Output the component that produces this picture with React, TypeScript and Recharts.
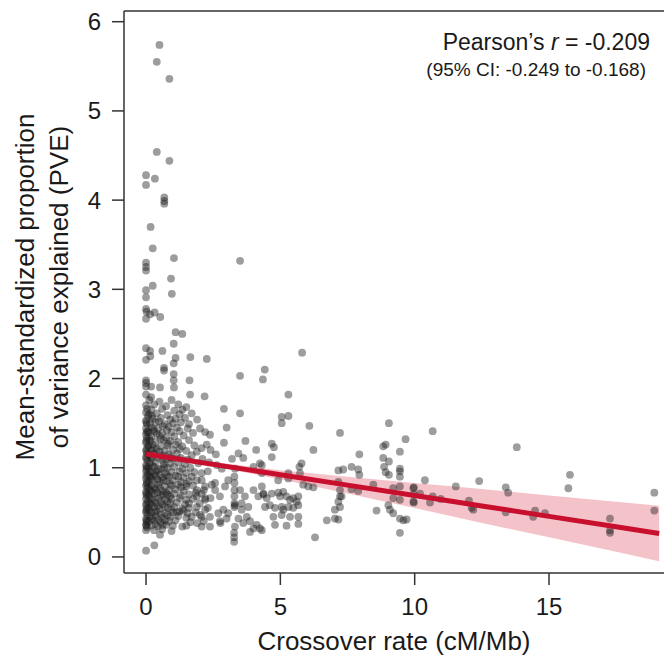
import { ComposedChart, Scatter, Line, Area, XAxis, YAxis, ReferenceLine, Label } from 'recharts';

const FONT = '"Liberation Sans", Arial, Helvetica, sans-serif';
const INK = '#1a1a1a';
const AXIS = '#333';

const X_DOMAIN = [-0.82, 19.28];
const Y_DOMAIN = [-0.18, 6.12];
const X_TICKS = [0, 5, 10, 15];
const Y_TICKS = [0, 1, 2, 3, 4, 5, 6];

// regression fit and 95% band
const fitX = [0, 2.5, 5, 7.5, 10, 12.5, 15, 17.5, 19.1];
const fitY = [1.155, 1.038, 0.922, 0.805, 0.688, 0.571, 0.455, 0.338, 0.263];
const bandLow = [1.105, 1.013, 0.872, 0.71, 0.548, 0.381, 0.22, 0.058, -0.047];
const bandHigh = [1.205, 1.063, 0.972, 0.9, 0.828, 0.761, 0.69, 0.618, 0.573];

// points above ~1.8
const upperPoints = [
  [0.5, 5.74], [0.4, 5.55], [0.87, 5.36], [0.4, 4.54], [0.87, 4.44], [0.0, 4.28], [0.33, 4.24],
  [0.0, 4.17], [0.68, 4.03], [0.68, 3.99], [0.68, 3.96], [0.17, 3.7], [0.25, 3.46], [1.04, 3.35],
  [3.5, 3.32], [0.0, 3.3], [0.0, 3.25], [0.0, 3.21], [0.93, 3.12], [0.25, 3.04], [0.0, 2.99],
  [0.96, 2.95], [0.0, 2.91], [0.0, 2.78], [0.02, 2.75], [0.15, 2.72], [0.32, 2.74], [0.53, 2.69],
  [0.0, 2.67], [1.1, 2.52], [1.35, 2.5], [1.03, 2.39], [0.0, 2.34], [0.15, 2.31], [0.61, 2.31],
  [0.0, 2.21], [0.16, 2.25], [1.1, 2.23], [1.65, 2.24], [2.26, 2.22], [1.03, 2.17], [0.67, 2.12],
  [0.67, 2.09], [1.03, 2.05], [3.5, 2.03], [4.42, 2.1], [5.81, 2.29], [0.0, 1.98], [1.03, 1.98],
  [1.62, 1.98], [4.35, 1.99], [1.04, 1.9], [1.64, 1.82], [2.18, 1.8], [0.0, 1.95], [0.0, 1.91],
  [0.19, 1.91], [0.52, 1.9], [0.0, 1.82], [0.19, 1.79], [5.3, 1.82],
];

// the stack of points at a crossover rate of ~0
const zeroColumn = [
  [0, 1.7], [0.04, 1.66], [0, 1.62], [0.07, 1.58], [0, 1.53], [0.03, 1.49], [0, 1.44], [0.06, 1.41],
  [0, 1.37], [0.03, 1.33], [0, 1.28], [0.08, 1.24], [0, 1.19], [0.03, 1.16], [0, 1.12], [0.06, 1.08],
  [0, 1.03], [0.02, 0.99], [0, 0.96], [0.07, 0.92], [0, 0.88], [0.03, 0.84], [0, 0.8], [0.05, 0.77],
  [0, 0.73], [0.02, 0.69], [0, 0.65], [0.07, 0.62], [0, 0.58], [0.03, 0.54], [0, 0.5], [0.05, 0.47],
  [0, 0.43], [0.02, 0.39], [0, 0.36], [0.04, 0.33], [0, 0.3], [0.01, 1.51], [0.02, 1.4], [0.01, 1.3],
  [0.02, 1.21], [0.01, 1.1], [0.02, 1.01], [0.01, 0.91], [0.03, 0.82], [0.01, 0.71], [0.02, 0.6],
  [0.01, 0.52], [0.02, 0.41], [0.01, 0.35], [0.0, 0.07],
];

// dense cloud between 0 and 2.5 cM/Mb
const denseCluster = [
  [0.12, 1.76], [0.5, 1.74], [0.95, 1.76],
  [0.3, 1.71], [0.75, 1.69], [1.2, 1.71], [1.5, 1.68],
  [0.2, 1.65], [0.6, 1.66], [1.05, 1.64], [1.35, 1.65],
  [0.12, 1.6], [0.4, 1.61], [0.8, 1.59], [1.25, 1.6], [1.7, 1.61],
  [0.25, 1.55], [0.55, 1.56], [0.9, 1.54], [1.1, 1.55], [1.45, 1.56], [1.9, 1.54],
  [0.15, 1.5], [0.35, 1.51], [0.7, 1.49], [1.0, 1.5], [1.3, 1.51], [1.6, 1.49],
  [0.2, 1.45], [0.45, 1.44], [0.85, 1.46], [1.15, 1.45], [1.55, 1.44],
  [0.1, 1.4], [0.3, 1.41], [0.6, 1.39], [0.95, 1.4], [1.25, 1.41], [1.75, 1.39], [2.2, 1.4],
  [0.2, 1.35], [0.5, 1.36], [0.75, 1.34], [1.05, 1.35], [1.4, 1.36],
  [0.15, 1.3], [0.35, 1.29], [0.65, 1.31], [0.9, 1.3], [1.2, 1.29], [1.6, 1.31],
  [0.1, 1.25], [0.25, 1.26], [0.55, 1.24], [0.8, 1.25], [1.1, 1.26], [1.35, 1.24], [1.8, 1.25],
  [0.2, 1.2], [0.4, 1.21], [0.7, 1.19], [1.0, 1.2], [1.25, 1.21], [1.5, 1.19], [2.4, 1.2],
  [0.1, 1.15], [0.3, 1.16], [0.6, 1.14], [0.85, 1.15], [1.15, 1.16], [1.7, 1.14],
  [0.2, 1.1], [0.45, 1.11], [0.75, 1.09], [1.0, 1.1], [1.3, 1.11], [1.55, 1.09], [2.1, 1.1],
  [0.15, 1.05], [0.35, 1.06], [0.65, 1.04], [0.9, 1.05], [1.2, 1.06], [1.45, 1.04], [1.95, 1.05], [2.35, 1.06],
  [0.1, 1.0], [0.3, 1.01], [0.55, 0.99], [0.8, 1.0], [1.05, 1.01], [1.35, 0.99], [1.65, 1.0],
  [0.2, 0.95], [0.4, 0.96], [0.7, 0.94], [0.95, 0.95], [1.25, 0.96], [1.5, 0.94], [1.8, 0.95], [2.3, 0.96],
  [0.15, 0.9], [0.35, 0.91], [0.6, 0.89], [0.85, 0.9], [1.1, 0.91], [1.4, 0.89], [1.7, 0.9],
  [0.1, 0.85], [0.25, 0.86], [0.5, 0.84], [0.75, 0.85], [1.0, 0.86], [1.3, 0.84], [1.6, 0.85],
  [0.2, 0.8], [0.45, 0.81], [0.7, 0.79], [0.95, 0.8], [1.2, 0.81], [1.5, 0.79], [1.75, 0.8], [2.45, 0.81],
  [0.15, 0.75], [0.35, 0.76], [0.6, 0.74], [0.85, 0.75], [1.1, 0.76], [1.4, 0.74], [2.15, 0.75],
  [0.1, 0.7], [0.3, 0.71], [0.55, 0.69], [0.8, 0.7], [1.05, 0.71], [1.3, 0.69], [1.6, 0.7],
  [0.2, 0.65], [0.45, 0.66], [0.7, 0.64], [0.95, 0.65], [1.25, 0.66], [1.5, 0.64], [1.75, 0.65], [2.4, 0.66],
  [0.15, 0.6], [0.35, 0.61], [0.6, 0.59], [0.9, 0.6], [1.15, 0.61], [1.45, 0.59],
  [0.1, 0.55], [0.3, 0.56], [0.5, 0.54], [0.8, 0.55], [1.05, 0.56], [1.35, 0.54], [1.6, 0.55],
  [0.2, 0.5], [0.4, 0.51], [0.7, 0.49], [1.0, 0.5], [1.25, 0.51], [1.55, 0.49], [1.85, 0.5],
  [0.15, 0.45], [0.35, 0.46], [0.6, 0.44], [0.9, 0.45], [1.2, 0.46], [1.5, 0.44],
  [0.1, 0.4], [0.3, 0.41], [0.55, 0.39], [0.85, 0.4], [1.1, 0.41], [1.65, 0.39],
  [0.2, 0.35], [0.45, 0.34], [0.75, 0.36], [1.0, 0.35], [1.35, 0.34],
  [0.3, 0.3], [0.6, 0.31], [0.95, 0.29], [0.52, 0.25], [0.31, 0.13],
];

// overlapping points that darken the core of the cloud
const denseOverlap = [
  [0.22, 1.58], [0.48, 1.52], [0.62, 1.47], [0.28, 1.43], [0.78, 1.42], [0.4, 1.38], [0.12, 1.33],
  [0.55, 1.32], [0.82, 1.27], [0.28, 1.22], [0.5, 1.18], [0.18, 1.12], [0.62, 1.08], [0.9, 1.12],
  [0.25, 1.02], [0.45, 0.98], [0.68, 1.0], [0.12, 0.96], [0.3, 0.93], [0.52, 0.92], [0.78, 0.92],
  [0.2, 0.88], [0.42, 0.87], [0.65, 0.86], [0.9, 0.82], [0.1, 0.78], [0.3, 0.78], [0.52, 0.77],
  [0.75, 0.72], [0.22, 0.73], [0.42, 0.72], [0.65, 0.7], [0.9, 0.68], [0.12, 0.67], [0.3, 0.64],
  [0.55, 0.62], [0.8, 0.62], [0.22, 0.58], [0.45, 0.57], [0.7, 0.56], [0.95, 0.53], [0.12, 0.52],
  [0.32, 0.5], [0.55, 0.48], [0.8, 0.47], [0.22, 0.43], [0.45, 0.42], [0.7, 0.41], [0.35, 0.37],
  [0.62, 0.36], [1.2, 0.9], [1.5, 0.82], [1.85, 0.72], [2.0, 0.6], [1.6, 0.6], [1.4, 0.52],
  [1.15, 0.5], [1.3, 0.78], [1.7, 0.45], [2.3, 0.55], [2.15, 0.4], [1.9, 0.38], [1.5, 0.35],
];

// 2 to 10 cM/Mb
const middlePoints = [
  [2.9, 1.66], [3.5, 1.61], [5.05, 1.57], [5.05, 1.5], [5.3, 1.58], [6.08, 1.47], [7.22, 1.39],
  [6.23, 1.2], [2.9, 1.28], [4.68, 1.27], [4.76, 1.23], [4.68, 1.12], [5.79, 1.05], [5.71, 1.01],
  [9.04, 1.5], [9.66, 1.32], [8.83, 1.24], [8.92, 1.26], [9.45, 1.18], [7.94, 1.15], [8.83, 1.11],
  [9.04, 1.07], [4.31, 1.03], [2.01, 1.44], [2.38, 1.37], [2.07, 1.22], [2.26, 1.26], [1.89, 1.18],
  [3.44, 1.16], [3.62, 1.11], [4.0, 1.01], [4.24, 1.05], [3.0, 1.45], [3.7, 1.3], [4.1, 1.2],
  [2.6, 1.15], [3.2, 1.1],
  [8.86, 1.01], [8.92, 0.95], [9.04, 0.92], [9.45, 0.99], [9.45, 0.96], [9.45, 0.9], [7.16, 0.97],
  [7.34, 0.98], [7.65, 1.01], [7.9, 0.98], [7.94, 0.92], [5.3, 0.94], [5.73, 0.94], [4.31, 0.94],
  [4.92, 0.86], [5.3, 0.88], [5.85, 0.81], [6.04, 0.79], [6.23, 0.78], [7.16, 0.84], [7.22, 0.75],
  [7.65, 0.76], [7.9, 0.74], [8.46, 0.81], [9.2, 0.77], [9.45, 0.79], [9.95, 0.77], [7.22, 0.68],
  [9.2, 0.66], [9.45, 0.64], [9.95, 0.62],
  [4.37, 0.7], [4.49, 0.66], [4.68, 0.71], [4.92, 0.72], [4.99, 0.68], [5.11, 0.73], [5.23, 0.68],
  [5.36, 0.64], [5.48, 0.66], [5.61, 0.62], [5.67, 0.68],
  [4.43, 0.56], [4.61, 0.58], [4.8, 0.55], [5.05, 0.56], [5.11, 0.53], [5.3, 0.56], [5.48, 0.55], [5.67, 0.58],
  [4.74, 0.45], [5.05, 0.47], [5.36, 0.45], [5.67, 0.45], [4.8, 0.36], [5.23, 0.35], [5.67, 0.37],
  [4.31, 0.3], [6.29, 0.22],
  [7.03, 0.53], [7.22, 0.56], [7.16, 0.62], [6.73, 0.41], [7.03, 0.43], [7.16, 0.42], [8.58, 0.52],
  [9.02, 0.58], [9.08, 0.53], [9.2, 0.49], [9.45, 0.43], [9.58, 0.41], [9.7, 0.42], [9.45, 0.27], [7.28, 0.68],
  [2.63, 1.03], [2.82, 0.99], [3.31, 0.99], [2.07, 0.94], [2.07, 0.86], [2.2, 0.79], [2.07, 0.71],
  [2.2, 0.64], [2.2, 0.66], [1.89, 0.86], [1.89, 0.75], [1.89, 0.68], [1.89, 0.56], [2.57, 0.83],
  [2.57, 0.75], [2.94, 0.79], [2.75, 0.68], [3.06, 0.86], [3.29, 0.9], [3.29, 0.83], [3.29, 0.75],
  [3.29, 0.68], [3.29, 0.6], [3.31, 0.58], [3.29, 0.56], [3.5, 0.75], [3.68, 0.68], [3.56, 0.6],
  [3.81, 0.56], [4.0, 0.75], [4.18, 0.68], [4.31, 0.79], [4.37, 0.71], [2.2, 0.53], [2.38, 0.45],
  [2.01, 0.47], [2.07, 0.45], [2.75, 0.4], [2.77, 0.38], [2.69, 0.49], [3.06, 0.49], [2.88, 0.53],
  [3.0, 0.43], [3.44, 0.43], [3.75, 0.45], [3.87, 0.4], [4.12, 0.36], [4.24, 0.32], [3.31, 0.34],
  [3.28, 0.27], [3.28, 0.22], [3.28, 0.17], [3.62, 0.38], [3.87, 0.28], [2.38, 0.34], [2.07, 0.34],
  [3.56, 0.53], [4.0, 0.32],
];

// beyond 10 cM/Mb
const tailPoints = [
  [10.67, 1.41], [13.8, 1.23], [15.78, 0.92], [15.72, 0.77], [18.92, 0.72], [18.92, 0.52],
  [10.38, 0.86], [9.97, 0.78], [9.97, 0.7], [9.97, 0.61], [10.2, 0.71], [10.67, 0.68], [10.57, 0.61],
  [10.97, 0.65], [11.53, 0.79], [12.4, 0.85], [12.02, 0.63], [12.12, 0.55], [12.18, 0.53],
  [13.39, 0.78], [13.48, 0.72], [13.39, 0.5], [14.48, 0.52], [14.41, 0.45], [14.85, 0.49],
  [17.27, 0.43], [17.27, 0.3], [17.27, 0.27],
];

const points = [
  ...upperPoints, ...zeroColumn, ...denseCluster, ...denseOverlap, ...middlePoints, ...tailPoints,
].map(([x, y]) => ({ x, y }));

const fitData = fitX.map((x, i) => ({ x, fit: fitY[i], band: [bandLow[i], bandHigh[i]] }));

const Dot = (p: any) => <circle cx={p.cx} cy={p.cy} r={3.9} fill="#1c1c1c" fillOpacity={0.43} />;

const YTitle = () => (
  <g fontFamily={FONT} fontSize={26} fill={INK}>
    <text transform="rotate(-90)" x={-287} y={25} textAnchor="middle" dominantBaseline="central">
      Mean-standardized proportion
    </text>
    <text transform="rotate(-90)" x={-287} y={59} textAnchor="middle" dominantBaseline="central">
      of variance explained (PVE)
    </text>
  </g>
);

export default function App() {
  const tick = { fontSize: 24, fill: INK, fontFamily: FONT };
  return (
    <div style={{ position: 'absolute', left: 0, top: 0, width: 664, height: 659, overflow: 'hidden', background: '#fff' }}>
      <ComposedChart width={664} height={659} data={fitData} margin={{ top: 11, right: 0, bottom: 0, left: 0 }}>
        <XAxis
          type="number"
          dataKey="x"
          domain={X_DOMAIN}
          allowDataOverflow
          ticks={X_TICKS}
          height={86}
          tickSize={12}
          tickMargin={13}
          tick={tick}
          axisLine={{ stroke: AXIS, strokeWidth: 1.5 }}
          tickLine={{ stroke: AXIS, strokeWidth: 1.5 }}
        >
          <Label value="Crossover rate (cM/Mb)" position="insideBottom" offset={9} fontSize={26} fill={INK} fontFamily={FONT} />
        </XAxis>
        <YAxis
          type="number"
          dataKey="y"
          domain={Y_DOMAIN}
          allowDataOverflow
          ticks={Y_TICKS}
          width={124}
          tickSize={12}
          tickMargin={11}
          tick={tick}
          axisLine={{ stroke: AXIS, strokeWidth: 1.5 }}
          tickLine={{ stroke: AXIS, strokeWidth: 1.5 }}
        >
          <Label content={YTitle} />
        </YAxis>
        <ReferenceLine y={Y_DOMAIN[1]} stroke={AXIS} strokeWidth={1.5} />
        <Area
          dataKey="band"
          type="linear"
          fill="#f4c3c9"
          fillOpacity={1}
          stroke="none"
          isAnimationActive={false}
          activeDot={false}
        />
        <Scatter data={points} shape={Dot} isAnimationActive={false} />
        <Line
          dataKey="fit"
          type="linear"
          stroke="#c8102e"
          strokeWidth={5}
          dot={false}
          activeDot={false}
          isAnimationActive={false}
          zIndex={700}
        />
      </ComposedChart>
      <div
        style={{
          position: 'absolute', right: 14, top: 31, fontFamily: FONT, fontSize: 23, lineHeight: '23px',
          color: INK, whiteSpace: 'nowrap',
        }}
      >
        Pearson’s <i>r</i> = -0.209
      </div>
      <div
        style={{
          position: 'absolute', right: 18, top: 60, fontFamily: FONT, fontSize: 19, lineHeight: '19px',
          color: INK, whiteSpace: 'nowrap',
        }}
      >
        (95% CI: -0.249 to -0.168)
      </div>
    </div>
  );
}
